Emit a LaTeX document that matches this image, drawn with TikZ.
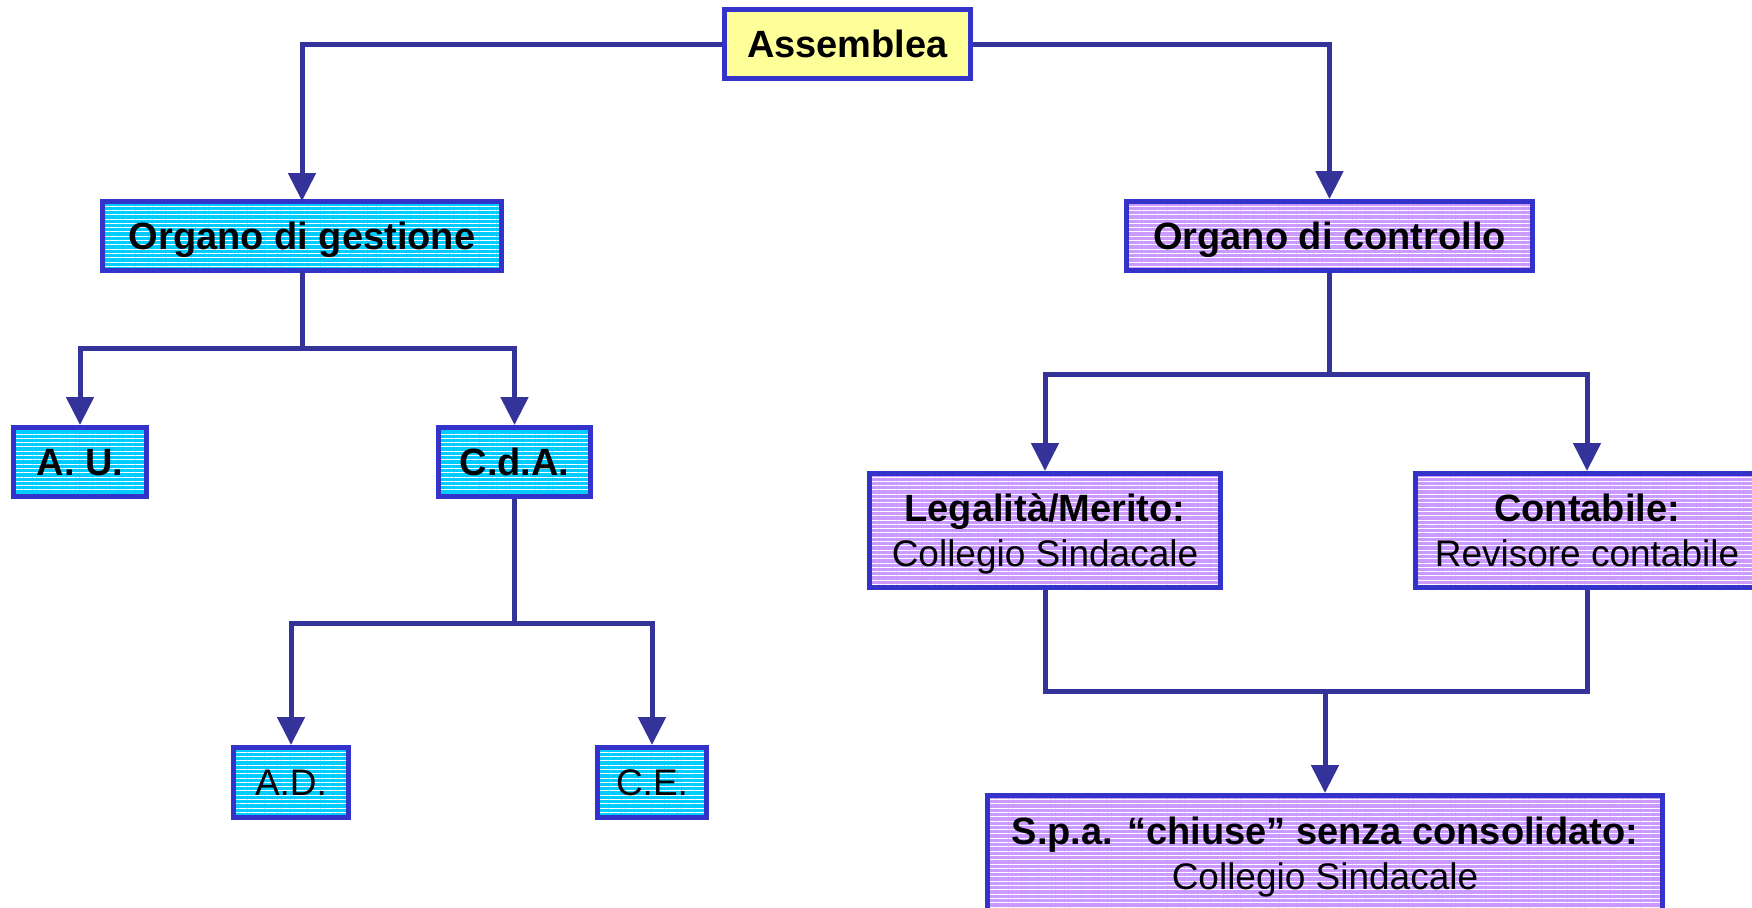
\documentclass[tikz,border=0pt]{standalone}
\usepackage{fontspec}
\setmainfont{Liberation Sans}
\usepackage{tikz}
\usetikzlibrary{arrows.meta,patterns.meta}

\definecolor{linkblue}{HTML}{333399}
\definecolor{edgeblue}{HTML}{3333CC}
\definecolor{gestcyan}{HTML}{00CCFF}
\definecolor{ctrllilac}{HTML}{CC99FF}
\definecolor{asmyellow}{HTML}{FFFF99}

\newcommand{\plain}[1]{{\mdseries\fontsize{18.5}{22.5}\selectfont #1}}

\begin{document}
\begin{tikzpicture}[x=0.5pt, y=-0.5pt, >={Triangle[length=14pt, width=13.5pt]},
	every node/.style={font=\bfseries\fontsize{19}{22.5}\selectfont, inner sep=0pt, align=center, text depth=0pt},
	box/.style={draw=edgeblue, line width=2.5pt},
	striped/.style={box, preaction={fill=#1}, pattern={Lines[angle=0, distance=2.15pt, line width=0.5pt]}, pattern color=white},
	trunk/.style={draw=linkblue, line width=2.5pt},
	link/.style={trunk, ->}]
	\useasboundingbox (0,0) rectangle (1752,907);
	\clip (0,0) rectangle (1752,907);

	% top
	\node[box, fill=asmyellow, minimum width=123pt, minimum height=34.5pt] (asm) at (847.5,44) {Assemblea};
	\node[striped=gestcyan, minimum width=199.5pt, minimum height=34.5pt] (gest) at (302,236) {Organo di gestione};
	\node[striped=ctrllilac, minimum width=203pt, minimum height=34.5pt] (ctrl) at (1329.5,236) {Organo di controllo};

	% gestione
	\node[striped=gestcyan, minimum width=66.5pt, minimum height=34.5pt] (au) at (80,462) {A. U.};
	\node[striped=gestcyan, minimum width=76pt, minimum height=34.5pt] (cda) at (514.5,462) {C.d.A.};
	\node[striped=gestcyan, minimum width=57.5pt, minimum height=35pt] (ad) at (291,782.5) {\plain{A.D.}};
	\node[striped=gestcyan, minimum width=54.5pt, minimum height=35pt] (ce) at (652,782.5) {\plain{C.E.}};

	% controllo
	\node[striped=ctrllilac, minimum width=175.5pt, minimum height=57pt] (leg) at (1045,530.5) {Legalità/Merito:\\\plain{Collegio Sindacale}};
	\node[striped=ctrllilac, minimum width=171.5pt, minimum height=57pt] (cont) at (1587,530.5) {Contabile:\\\plain{Revisore contabile}};
	\node[striped=ctrllilac, minimum width=337.5pt, minimum height=58pt] (spa) at (1325,853.5) {S.p.a. “chiuse” senza consolidato:\\\plain{Collegio Sindacale}};

	\draw[link] (asm.west) -| (gest.north);
	\draw[link] (asm.east) -| (ctrl.north);

	\draw[trunk] (gest.south) -- ++(0,77.5) coordinate (jg);
	\draw[link] (jg) -| (au.north);
	\draw[link] (jg) -| (cda.north);

	\draw[trunk] (cda.south) -- ++(0,124.5) coordinate (jd);
	\draw[link] (jd) -| (ad.north);
	\draw[link] (jd) -| (ce.north);

	\draw[trunk] (ctrl.south) -- ++(0,101.5) coordinate (jc);
	\draw[link] (jc) -| (leg.north);
	\draw[link] (jc) -| (cont.north);

	\coordinate (jm) at (1325,691);
	\draw[trunk] (leg.south) |- (jm) -| (cont.south);
	\draw[link] (jm) -- (spa.north);
\end{tikzpicture}
\end{document}
